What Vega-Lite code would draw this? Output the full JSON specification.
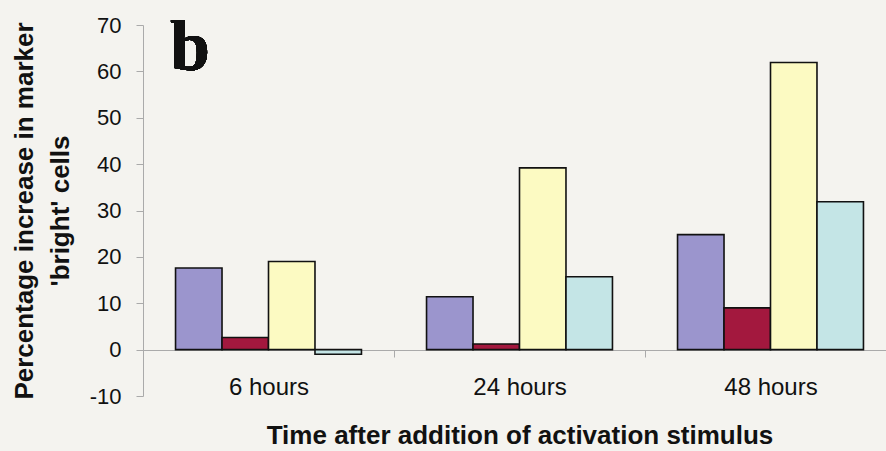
{
  "$schema": "https://vega.github.io/schema/vega-lite/v6.json",
  "width": 743,
  "height": 371,
  "autosize": {"type": "none"},
  "padding": {"left": 143, "top": 25, "right": 0, "bottom": 55},
  "background": "#f4f3ef",
  "config": {"view": {"stroke": null}, "font": "Liberation Sans"},
  "data": {
    "values": [
      {"time": "6 hours", "series": "A", "value": 17.6},
      {"time": "6 hours", "series": "B", "value": 2.6},
      {"time": "6 hours", "series": "C", "value": 19.0},
      {"time": "6 hours", "series": "D", "value": -1.0},
      {"time": "24 hours", "series": "A", "value": 11.4},
      {"time": "24 hours", "series": "B", "value": 1.2},
      {"time": "24 hours", "series": "C", "value": 39.2},
      {"time": "24 hours", "series": "D", "value": 15.7},
      {"time": "48 hours", "series": "A", "value": 24.8},
      {"time": "48 hours", "series": "B", "value": 9.0},
      {"time": "48 hours", "series": "C", "value": 61.9},
      {"time": "48 hours", "series": "D", "value": 31.9}
    ]
  },
  "layer": [
    {
      "mark": {"type": "bar", "stroke": "#111111", "strokeWidth": 1.6},
      "encoding": {
        "x": {
          "field": "time",
          "type": "nominal",
          "sort": ["6 hours", "24 hours", "48 hours"],
          "scale": {"paddingInner": 0, "paddingOuter": 0, "range": [0, 753]},
          "axis": {
            "title": "Time after addition of activation stimulus",
            "titleFont": "Liberation Sans",
            "titleFontSize": 26,
            "titleFontWeight": "bold",
            "titleColor": "#111111",
            "titlePadding": 23,
            "labelAngle": 0,
            "labelFontSize": 24,
            "labelColor": "#111111",
            "labelPadding": 18,
            "offset": -46,
            "tickBand": "extent",
            "tickSize": 7,
            "tickColor": "#aaaaaa",
            "domainColor": "#aaaaaa",
            "domainWidth": 1
          }
        },
        "xOffset": {
          "field": "series",
          "type": "nominal",
          "scale": {"paddingInner": 0, "paddingOuter": 0.7}
        },
        "y": {
          "field": "value",
          "type": "quantitative",
          "scale": {"domain": [-10, 70], "nice": false},
          "axis": {
            "values": [-10, 0, 10, 20, 30, 40, 50, 60, 70],
            "labelExpr": "datum.value + ''",
            "title": ["Percentage increase in marker", "'bright' cells"],
            "titleFont": "Liberation Sans",
            "titleFontSize": 26,
            "titleFontWeight": "bold",
            "titleColor": "#111111",
            "titleLineHeight": 36,
            "titlePadding": 16,
            "labelFontSize": 22,
            "labelColor": "#111111",
            "labelPadding": 15,
            "tickSize": 7,
            "tickColor": "#aaaaaa",
            "domainColor": "#aaaaaa",
            "grid": false
          }
        },
        "color": {
          "field": "series",
          "type": "nominal",
          "scale": {"domain": ["A", "B", "C", "D"], "range": ["#9b95cd", "#a3183e", "#fcfac2", "#c4e5e6"]},
          "legend": null
        }
      }
    },
    {
      "mark": {
        "type": "text",
        "text": "b",
        "align": "left",
        "baseline": "alphabetic",
        "dx": 27,
        "dy": 45,
        "font": "Liberation Serif",
        "fontSize": 72,
        "fontWeight": "bold",
        "color": "#111111"
      },
      "encoding": {
        "x": {"datum": "6 hours", "bandPosition": 0},
        "y": {"datum": 70}
      }
    }
  ]
}
